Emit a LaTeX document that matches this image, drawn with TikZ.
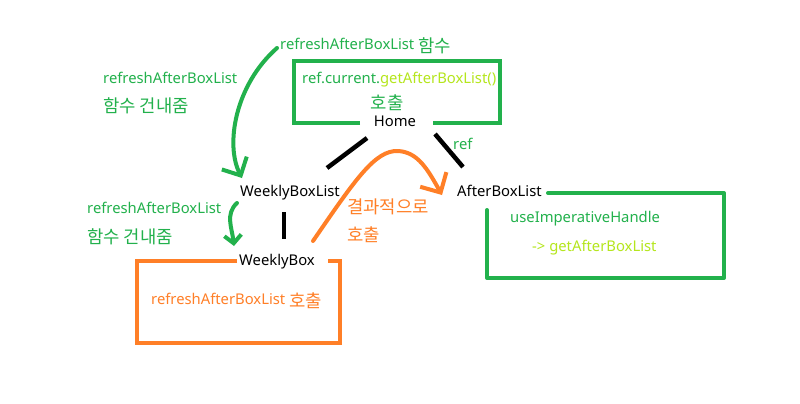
\documentclass[tikz,border=0pt]{standalone}
\usepackage{fontspec}
\setmainfont{Noto Sans}
\newfontfamily\kr{Noto Sans CJK KR}[Scale=1.2]
\newcommand\KO[1]{\raisebox{-2.5pt}{\kr #1}}
\usetikzlibrary{arrows.meta}
\definecolor{pgreen}{HTML}{22B14C}
\definecolor{porange}{HTML}{FF7F27}
\definecolor{pyellow}{HTML}{B5E61D}
\begin{document}
\begin{tikzpicture}[x=1pt,y=-1pt,
  txt/.style={inner sep=0pt, text height=10.5pt, text depth=3.5pt, font=\fontsize{14.8}{18}\selectfont},
  gtxt/.style={txt, text=pgreen},
  otxt/.style={txt, text=porange},
  ytxt/.style={txt, text=pyellow},
  gline/.style={draw=pgreen, line width=4pt, line cap=round, line join=round},
  oline/.style={draw=porange, line width=4pt, line cap=round, line join=round},
  bline/.style={draw=black, line width=4.5pt},
  garrow/.style={gline, -{Straight Barb[length=14pt,width=28pt]}},
  gsmallarrow/.style={gline, -{Straight Barb[length=8pt,width=17pt]}},
  oarrow/.style={oline, -{Straight Barb[length=15pt,width=30pt]}}
]
\fill[white] (0,0) rectangle (800,404);
\useasboundingbox (0,0) rectangle (800,404);

% texts
\node[gtxt, anchor=west] (topfn) at (280,46) {refreshAfterBoxList \KO{함수}};
\node[gtxt, anchor=west] (lfa) at (103,80) {refreshAfterBoxList};
\node[gtxt, anchor=west] (lfb) at (103,106) {\KO{함수 건내줌}};
\node[txt, anchor=west] (reft) at (302,80) {\textcolor{pgreen}{ref.current.}\textcolor{pyellow}{getAfterBoxList()}};
\node[gtxt] (call1) at (387,103) {\KO{호출}};
\node[txt] (home) at (395,123) {Home};
\node[gtxt, anchor=west] (reflbl) at (453,146) {ref};
\node[txt] (wbl) at (290,193) {WeeklyBoxList};
\node[gtxt, anchor=west] (lfc) at (87,210) {refreshAfterBoxList};
\node[gtxt, anchor=west] (lfd) at (87,237) {\KO{함수 건내줌}};
\node[otxt, anchor=west] (res1) at (347,207) {\KO{결과적으로}};
\node[otxt, anchor=west] (res2) at (347,235) {\KO{호출}};
\node[txt, anchor=west] (wb) at (239,262) {WeeklyBox};
\node[otxt, anchor=west] (wbcall) at (151,301) {refreshAfterBoxList \KO{호출}};
\node[txt, anchor=west] (abl) at (457,193) {AfterBoxList};
\node[gtxt, anchor=west] (uih) at (510,219) {useImperativeHandle};
\node[ytxt, anchor=west] (gab) at (532,248) {-> getAfterBoxList};

% boxes
\draw[gline, line cap=butt, line join=miter] (360,123) -- (294,123) -- (294,61) -- (500,61) -- (500,123) -- (433,123);
\draw[oline, line cap=butt, line join=miter] (237,261) -- (137,261) -- (137,343) -- (340,343) -- (340,261) -- (328,261);
\draw[gline] (548,193) -- (724,193) -- (724,278) -- (487,278) -- (487,210);

% black connectors
\draw[bline] ([shift={(-28,15)}]home.center) -- ([shift={(37,-25)}]wbl.center);
\draw[bline] ([shift={(40,11)}]home.center) -- ([shift={(6,-26)}]abl.west);
\draw[bline] ([shift={(-6,19)}]wbl.center) -- ([shift={(45,-23)}]wb.west);

% arrows
\draw[garrow] ([shift={(-3,2)}]topfn.west) .. controls (235,85) and (225,145) .. ([shift={(-48,-15)}]wbl.center);
\draw[gsmallarrow] ([shift={(-53,10)}]wbl.center) .. controls (225,214) and (232,228) .. ([shift={(-5,-16)}]wb.west);
\draw[oarrow] ([shift={(74,-21)}]wb.west) .. controls (355,180) and (375,150) .. (398,151) .. controls (418,152) and (428,170) .. ([shift={(-15,2)}]abl.west);
\end{tikzpicture}
\end{document}
